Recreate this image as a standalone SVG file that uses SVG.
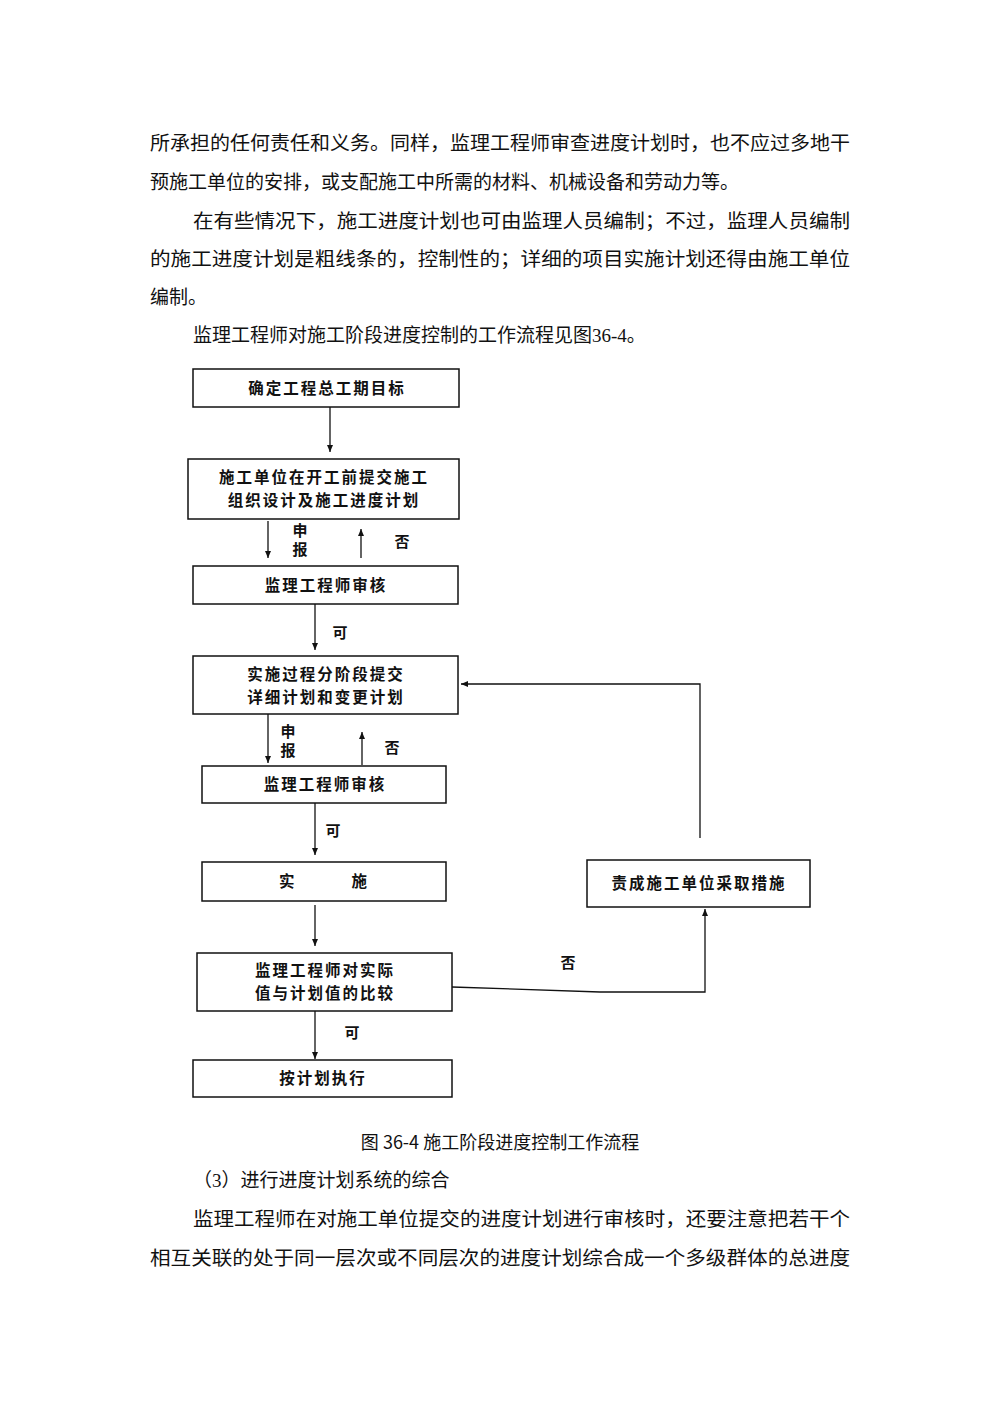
<svg xmlns="http://www.w3.org/2000/svg" width="1000" height="1415" viewBox="0 0 1000 1415">
<defs>
<marker id="ah" markerWidth="8" markerHeight="8" refX="7" refY="4" orient="auto" markerUnits="userSpaceOnUse"><path d="M0,1 L7,4 L0,7 Z" fill="#111"/></marker>
</defs>
<style>
.body{font-family:"Liberation Serif","Noto Sans CJK SC",serif;font-size:19px;fill:#111}
.box{fill:#fff;stroke:#111;stroke-width:1.5}
.bt{font-family:"Noto Sans CJK SC",sans-serif;font-size:15.5px;font-weight:bold;fill:#111;text-anchor:middle;letter-spacing:2px}
.lb{font-family:"Noto Sans CJK SC",sans-serif;font-size:15px;font-weight:bold;fill:#111;text-anchor:middle}
.c{fill:none;stroke:#111;stroke-width:1.3}
.cap{font-family:"Noto Sans CJK SC",sans-serif;font-size:18px;fill:#111;text-anchor:middle}
</style>
<rect width="1000" height="1415" fill="#fff"/>
<g id="text">
<text class="body" x="150" y="150" textLength="700" lengthAdjust="spacingAndGlyphs">所承担的任何责任和义务。同样，监理工程师审查进度计划时，也不应过多地干</text>
<text class="body" x="150" y="189">预施工单位的安排，或支配施工中所需的材料、机械设备和劳动力等。</text>
<text class="body" x="193" y="228" textLength="657" lengthAdjust="spacingAndGlyphs">在有些情况下，施工进度计划也可由监理人员编制；不过，监理人员编制</text>
<text class="body" x="150" y="266" textLength="700" lengthAdjust="spacingAndGlyphs">的施工进度计划是粗线条的，控制性的；详细的项目实施计划还得由施工单位</text>
<text class="body" x="150" y="304">编制。</text>
<text class="body" x="193" y="342">监理工程师对施工阶段进度控制的工作流程见图36-4。</text>
<text class="cap" x="500" y="1149">图 36-4  施工阶段进度控制工作流程</text>
<text class="body" x="193" y="1187">（3）进行进度计划系统的综合</text>
<text class="body" x="193" y="1226" textLength="657" lengthAdjust="spacingAndGlyphs">监理工程师在对施工单位提交的进度计划进行审核时，还要注意把若干个</text>
<text class="body" x="150" y="1265" textLength="700" lengthAdjust="spacingAndGlyphs">相互关联的处于同一层次或不同层次的进度计划综合成一个多级群体的总进度</text>
</g>
<g id="n1"><rect class="box" x="193" y="369" width="266" height="38"/><text class="bt" x="327" y="394">确定工程总工期目标</text></g>
<g id="n2"><rect class="box" x="188" y="459" width="271" height="60"/><text class="bt" x="324" y="483">施工单位在开工前提交施工</text><text class="bt" x="324" y="506">组织设计及施工进度计划</text></g>
<g id="n3"><rect class="box" x="193" y="566" width="265" height="38"/><text class="bt" x="326" y="591">监理工程师审核</text></g>
<g id="n4"><rect class="box" x="193" y="656" width="265" height="58"/><text class="bt" x="326" y="680">实施过程分阶段提交</text><text class="bt" x="326" y="703">详细计划和变更计划</text></g>
<g id="n5"><rect class="box" x="202" y="766" width="244" height="37"/><text class="bt" x="325" y="790">监理工程师审核</text></g>
<g id="n6"><rect class="box" x="202" y="862" width="244" height="39"/><text class="bt" x="324" y="887" xml:space="preserve">实          施</text></g>
<g id="n7"><rect class="box" x="197" y="953" width="255" height="58"/><text class="bt" x="325" y="976">监理工程师对实际</text><text class="bt" x="325" y="999">值与计划值的比较</text></g>
<g id="n8"><rect class="box" x="193" y="1060" width="259" height="37"/><text class="bt" x="323" y="1084">按计划执行</text></g>
<g id="n9"><rect class="box" x="587" y="860" width="223" height="47"/><text class="bt" x="699" y="889">责成施工单位采取措施</text></g>
<g id="connectors">
<line class="c" x1="330" y1="407" x2="330" y2="452" marker-end="url(#ah)"/>
<line class="c" x1="268" y1="521" x2="268" y2="558" marker-end="url(#ah)"/>
<line class="c" x1="361" y1="558" x2="361" y2="529" marker-end="url(#ah)"/>
<line class="c" x1="315" y1="604" x2="315" y2="650" marker-end="url(#ah)"/>
<line class="c" x1="268" y1="714" x2="268" y2="763" marker-end="url(#ah)"/>
<line class="c" x1="362" y1="765" x2="362" y2="732" marker-end="url(#ah)"/>
<line class="c" x1="315" y1="803" x2="315" y2="855" marker-end="url(#ah)"/>
<line class="c" x1="315" y1="905" x2="315" y2="946" marker-end="url(#ah)"/>
<line class="c" x1="315" y1="1011" x2="315" y2="1059" marker-end="url(#ah)"/>
<polyline class="c" points="452,987 600,992 705,992 705,909" marker-end="url(#ah)"/>
<polyline class="c" points="700,838 700,684 461,684" marker-end="url(#ah)"/>
<text class="lb" x="300" y="536">申</text><text class="lb" x="300" y="555">报</text>
<text class="lb" x="402" y="547">否</text>
<text class="lb" x="340" y="638">可</text>
<text class="lb" x="288" y="737">申</text><text class="lb" x="288" y="756">报</text>
<text class="lb" x="392" y="753">否</text>
<text class="lb" x="333" y="836">可</text>
<text class="lb" x="568" y="968">否</text>
<text class="lb" x="352" y="1038">可</text>
</g>
</svg>
